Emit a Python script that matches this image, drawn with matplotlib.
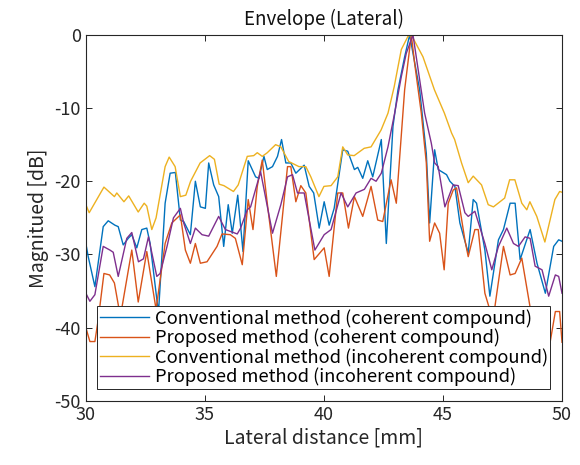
import matplotlib
matplotlib.use('Agg')
import matplotlib.pyplot as plt

plt.rcParams['font.family'] = ['Noto Sans CJK JP', 'DejaVu Sans']
plt.rcParams['axes.unicode_minus'] = False

# conventional method, coherent compound
conv_coh_x = [30.0, 30.1, 30.38, 30.73, 30.94, 31.22, 31.36, 31.57, 31.78, 31.93,
              32.14, 32.35, 32.56, 32.7, 33.05, 33.33, 33.54, 33.76, 33.97, 34.11,
              34.39, 34.6, 34.81, 35.02, 35.16, 35.37, 35.58, 35.79, 35.98, 36.15,
              36.38, 36.6, 36.82, 37.13, 37.27, 37.48, 37.62, 37.84, 38.05, 38.22,
              38.4, 38.61, 38.82, 39.17, 39.38, 39.57, 39.8, 40.01, 40.22, 40.43,
              40.79, 41.0, 41.28, 41.42, 41.63, 41.84, 42.05, 42.41, 42.62, 42.9,
              43.11, 43.39, 43.6, 44.02, 44.3, 44.44, 44.65, 44.8, 45.15, 45.29,
              45.5, 45.71, 46.06, 46.27, 46.41, 46.76, 46.97, 47.33, 47.54, 47.82,
              48.03, 48.24, 48.66, 48.95, 49.3, 49.65, 49.86, 50.0]
conv_coh_y = [-28.5, -30.3, -34.4, -26.2, -25.4, -26.0, -26.2, -28.7, -27.8, -27.3,
              -29.1, -26.6, -26.4, -28.5, -38.0, -23.0, -18.9, -18.8, -25.3, -25.5,
              -27.3, -20.0, -23.5, -23.7, -17.5, -20.5, -22.1, -28.9, -23.2, -27.1,
              -21.9, -29.6, -17.2, -19.4, -19.6, -16.6, -18.4, -18.0, -16.6, -14.3,
              -17.5, -17.5, -18.9, -17.8, -20.7, -21.6, -26.4, -22.8, -26.0, -23.7,
              -15.7, -15.9, -18.4, -18.1, -19.6, -17.2, -19.4, -14.3, -28.5, -12.5,
              -7.5, -3.0, 0.0, -7.5, -16.2, -25.7, -15.7, -18.4, -19.1, -20.0,
              -20.7, -25.7, -29.8, -22.5, -23.0, -29.4, -35.7, -28.0, -26.6, -23.0,
              -23.0, -30.7, -26.6, -31.2, -35.3, -28.9, -28.0, -28.2]

# proposed method, coherent compound
prop_coh_x = [30.0, 30.17, 30.38, 30.52, 30.76, 31.0, 31.2, 31.45, 31.93, 32.2,
              32.56, 32.95, 33.33, 33.61, 33.97, 34.18, 34.39, 34.6, 34.81, 35.09,
              35.51, 35.72, 36.07, 36.28, 36.57, 36.82, 37.02, 37.2, 37.41, 37.62,
              38.0, 38.47, 38.61, 38.82, 39.03, 39.24, 39.59, 40.01, 40.22, 40.58,
              40.79, 41.03, 41.28, 41.63, 41.98, 42.26, 42.47, 42.82, 43.04, 43.39,
              43.67, 43.81, 44.09, 44.3, 44.44, 44.65, 44.86, 45.05, 45.22, 45.43,
              45.57, 45.92, 46.06, 46.34, 46.48, 46.76, 47.1, 47.54, 47.82, 48.03,
              48.31, 48.7, 49.1, 49.5, 49.72, 49.9, 50.0]
prop_coh_y = [-40.0, -41.9, -41.9, -38.9, -32.6, -32.8, -33.9, -38.5, -29.4, -36.5,
              -29.6, -37.5, -28.5, -25.7, -24.6, -29.4, -31.2, -28.5, -31.2, -31.0,
              -28.9, -27.2, -27.3, -27.8, -31.4, -22.5, -26.6, -20.7, -17.1, -23.0,
              -33.0, -18.0, -18.0, -22.8, -20.6, -21.6, -30.7, -29.1, -33.0, -21.6,
              -21.6, -26.4, -22.1, -24.8, -20.7, -25.3, -25.5, -19.8, -23.0, -7.5,
              0.0, -3.9, -10.7, -17.5, -28.2, -25.7, -27.1, -32.1, -23.0, -21.2,
              -20.9, -28.0, -30.3, -26.6, -26.6, -35.3, -39.0, -28.9, -32.8, -32.6,
              -30.5, -38.0, -42.0, -42.0, -37.8, -37.8, -42.0]

# conventional method, incoherent compound
conv_inc_x = [30.0, 30.14, 30.76, 31.2, 31.3, 31.6, 31.8, 32.2, 32.45, 32.56,
              32.77, 32.95, 33.33, 33.5, 33.75, 33.97, 34.2, 34.4, 34.8, 35.2,
              35.4, 35.6, 35.8, 36.2, 36.4, 36.78, 37.05, 37.2, 37.41, 37.62,
              37.97, 38.19, 38.52, 38.95, 39.24, 39.45, 39.79, 40.0, 40.3, 40.58,
              40.79, 41.0, 41.27, 41.69, 41.98, 42.4, 42.69, 42.95, 43.25, 43.53,
              43.67, 44.16, 44.64, 45.06, 45.36, 45.49, 45.78, 46.06, 46.27, 46.62,
              46.9, 47.12, 47.59, 47.8, 48.02, 48.31, 48.52, 48.65, 48.94, 49.28,
              49.7, 49.9, 50.0]
conv_inc_y = [-23.2, -24.3, -20.8, -22.1, -21.6, -22.8, -22.0, -24.2, -23.0, -23.4,
              -26.6, -25.0, -18.0, -16.7, -18.0, -22.1, -21.9, -20.0, -17.5, -16.5,
              -17.0, -20.4, -20.6, -21.4, -20.5, -16.6, -16.5, -16.1, -16.6, -16.1,
              -15.0, -15.3, -17.3, -18.0, -18.0, -19.4, -22.1, -20.7, -20.6, -19.4,
              -15.3, -16.4, -16.5, -15.5, -15.3, -13.0, -10.7, -7.1, -2.0, -0.2,
              0.0, -3.0, -7.5, -10.7, -13.4, -14.3, -17.5, -20.2, -19.3, -20.5,
              -23.2, -23.5, -22.3, -19.8, -19.8, -23.0, -23.9, -22.8, -24.8, -28.3,
              -22.5, -21.4, -21.5]

# proposed method, incoherent compound
prop_inc_x = [30.0, 30.17, 30.38, 30.73, 31.01, 31.15, 31.36, 31.72, 31.93, 32.21,
              32.42, 32.63, 32.98, 33.12, 33.41, 33.68, 33.97, 34.11, 34.39, 34.6,
              34.88, 35.16, 35.58, 35.86, 36.36, 36.5, 36.78, 36.92, 37.34, 37.84,
              38.19, 38.47, 38.68, 38.89, 39.17, 39.62, 40.01, 40.3, 40.72, 41.0,
              41.35, 41.7, 41.98, 42.19, 42.41, 42.69, 42.97, 43.25, 43.46, 43.74,
              44.23, 44.51, 44.65, 44.8, 45.08, 45.43, 45.64, 45.92, 46.06, 46.34,
              46.76, 47.05, 47.33, 47.68, 47.96, 48.17, 48.45, 48.66, 48.87, 49.16,
              49.44, 49.72, 49.86, 50.0]
prop_inc_y = [-35.3, -36.4, -35.5, -28.9, -29.4, -29.7, -33.0, -27.8, -27.0, -31.0,
              -30.6, -27.6, -33.0, -32.6, -28.9, -25.0, -23.7, -25.7, -28.5, -26.4,
              -27.3, -27.5, -24.8, -26.6, -27.2, -26.4, -23.9, -23.5, -18.7, -27.1,
              -23.2, -19.4, -19.1, -21.6, -21.6, -29.4, -27.3, -26.6, -21.6, -23.5,
              -21.6, -21.1, -19.6, -20.0, -18.9, -15.3, -10.7, -5.7, -2.5, 0.0,
              -10.7, -14.8, -17.5, -18.0, -23.5, -20.5, -20.6, -24.3, -24.8, -24.1,
              -28.5, -32.1, -28.9, -26.4, -28.5, -28.9, -27.6, -27.8, -31.6, -32.1,
              -35.7, -32.8, -33.0, -35.3]

labels = ['Conventional method (coherent compound)',
          'Proposed method (coherent compound)',
          'Conventional method (incoherent compound)',
          'Proposed method (incoherent compound)']
colors = ['#0072BD', '#D95319', '#EDB120', '#7E2F8E']

fig = plt.figure(figsize=(5.8, 4.65), dpi=100)
ax = fig.add_axes([0.148, 0.138, 0.821, 0.787])

series = [(conv_coh_x, conv_coh_y), (prop_coh_x, prop_coh_y),
          (conv_inc_x, conv_inc_y), (prop_inc_x, prop_inc_y)]
for (xs, ys), c, lab in zip(series, colors, labels):
  ax.plot(xs, ys, color=c, lw=1.0, label=lab)

ax.set_xlim(30, 50)
ax.set_ylim(-50, 0)
ax.set_xticks([30, 35, 40, 45, 50])
ax.set_yticks([-50, -40, -30, -20, -10, 0])
ax.tick_params(direction='in', top=True, right=True, labelsize=13,
               length=4, width=0.7, colors='#262626')
for s in ax.spines.values():
  s.set_linewidth(0.8)
  s.set_color('#262626')

ax.set_title('Envelope (Lateral)', fontsize=13.5, color='#111111', pad=7)
ax.set_xlabel('Lateral distance [mm]', fontsize=14, color='#262626', labelpad=3)
ax.set_ylabel('Magnitued [dB]', fontsize=14, color='#262626')

leg = ax.legend(loc='lower left', bbox_to_anchor=(0.023, 0.033), fontsize=13.2,
                frameon=True, fancybox=False, framealpha=1, edgecolor='#262626',
                handlelength=2.7, handletextpad=0.3, borderpad=0.15,
                labelspacing=0.04, borderaxespad=0)
leg.get_frame().set_linewidth(0.7)

fig.savefig('out.png', dpi=100)
